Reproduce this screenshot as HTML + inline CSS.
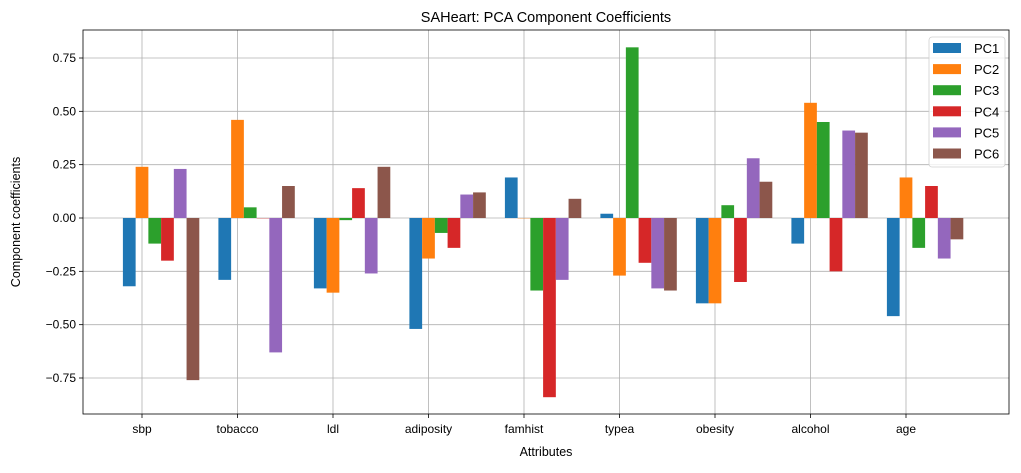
<!DOCTYPE html>
<html><head><meta charset="utf-8"><style>
body{margin:0;background:#fff;}
svg text{font-family:"Liberation Sans","DejaVu Sans",sans-serif;fill:#000;}
</style></head><body>
<svg id="chart" width="1021" height="468"></svg>
<script>
const categories=["sbp","tobacco","ldl","adiposity","famhist","typea","obesity","alcohol","age"];
const seriesNames=["PC1","PC2","PC3","PC4","PC5","PC6"];
const pc1=[-0.32,-0.29,-0.33,-0.52,0.19,0.02,-0.40,-0.12,-0.46];
const pc2=[0.24,0.46,-0.35,-0.19,0.00,-0.27,-0.40,0.54,0.19];
const pc3=[-0.12,0.05,-0.01,-0.07,-0.34,0.80,0.06,0.45,-0.14];
const pc4=[-0.20,0.00,0.14,-0.14,-0.84,-0.21,-0.30,-0.25,0.15];
const pc5=[0.23,-0.63,-0.26,0.11,-0.29,-0.33,0.28,0.41,-0.19];
const pc6=[-0.76,0.15,0.24,0.12,0.09,-0.34,0.17,0.40,-0.10];
const yTicks=[-0.75,-0.5,-0.25,0,0.25,0.5,0.75];
const yTickLabels=["−0.75","−0.50","−0.25","0.00","0.25","0.50","0.75"];
const colors=["#1f77b4","#ff7f0e","#2ca02c","#d62728","#9467bd","#8c564b"];
const series=[pc1,pc2,pc3,pc4,pc5,pc6];

const NS="http://www.w3.org/2000/svg";
const svg=document.getElementById('chart');
const L=83,R=1009,T=30,B=414;
const y0=218,ppu=213.33;
const yScale=v=>y0-v*ppu;
const x0=142,step=95.5;
const xScale=i=>x0+i*step;
const bw=step*0.8/6;
function el(tag,attrs,parent){const e=document.createElementNS(NS,tag);for(const k in attrs)e.setAttribute(k,attrs[k]);(parent||svg).appendChild(e);return e;}

yTicks.forEach((t,i)=>{
  const y=yScale(t);
  const g=el('line',{x1:L,x2:R,y1:y,y2:y,stroke:'#b0b0b0','stroke-width':0.8});
  
  
  el('line',{x1:L-4,x2:L,y1:y,y2:y,stroke:'#000','stroke-width':0.8});
  const tx=el('text',{x:L-7,y:y+4,'text-anchor':'end','font-size':12});
  tx.textContent=yTickLabels[i];
  
  
});
categories.forEach((c,i)=>{
  const x=xScale(i);
  const g=el('line',{x1:x,x2:x,y1:T,y2:B,stroke:'#b0b0b0','stroke-width':0.8});
  
  
  el('line',{x1:x,x2:x,y1:B,y2:B+4,stroke:'#000','stroke-width':0.8});
  const tx=el('text',{x:x,y:B+19,'text-anchor':'middle','font-size':12});
  tx.textContent=c;
  
  
});
series.forEach((s,j)=>{
  s.forEach((v,i)=>{
    const x=xScale(i)-1.5*bw+j*bw;
    const ya=yScale(Math.max(v,0)),yb=yScale(Math.min(v,0));
    const r=el('rect',{x:x,y:ya,width:bw,height:Math.max(yb-ya,0.3),fill:colors[j]});
    
    
  });
});
const fr=el('rect',{x:L,y:T,width:R-L,height:B-T,fill:'none',stroke:'#000','stroke-width':0.8});


const ti=el('text',{x:(L+R)/2,y:T-8,'text-anchor':'middle','font-size':14.5});
ti.textContent="SAHeart: PCA Component Coefficients";


const xl=el('text',{x:(L+R)/2,y:456,'text-anchor':'middle','font-size':12.5});
xl.textContent="Attributes";


const yl=el('text',{x:20,y:(T+B)/2,'text-anchor':'middle','font-size':12.5,transform:'rotate(-90 20 '+((T+B)/2)+')'});
yl.textContent="Component coefficients";


const lg=el('rect',{x:929,y:37,width:76,height:130,rx:3,fill:'#fff','fill-opacity':0.8,stroke:'#d0d0d0','stroke-width':0.8});


seriesNames.forEach((n,j)=>{
  const y=48+j*21.1;
  const p=el('rect',{x:933,y:y-5,width:28,height:10,fill:colors[j]});
  
  
  const t=el('text',{x:974,y:y+5,'font-size':13});
  t.textContent=n;
  
  
});
</script>
</body></html>
